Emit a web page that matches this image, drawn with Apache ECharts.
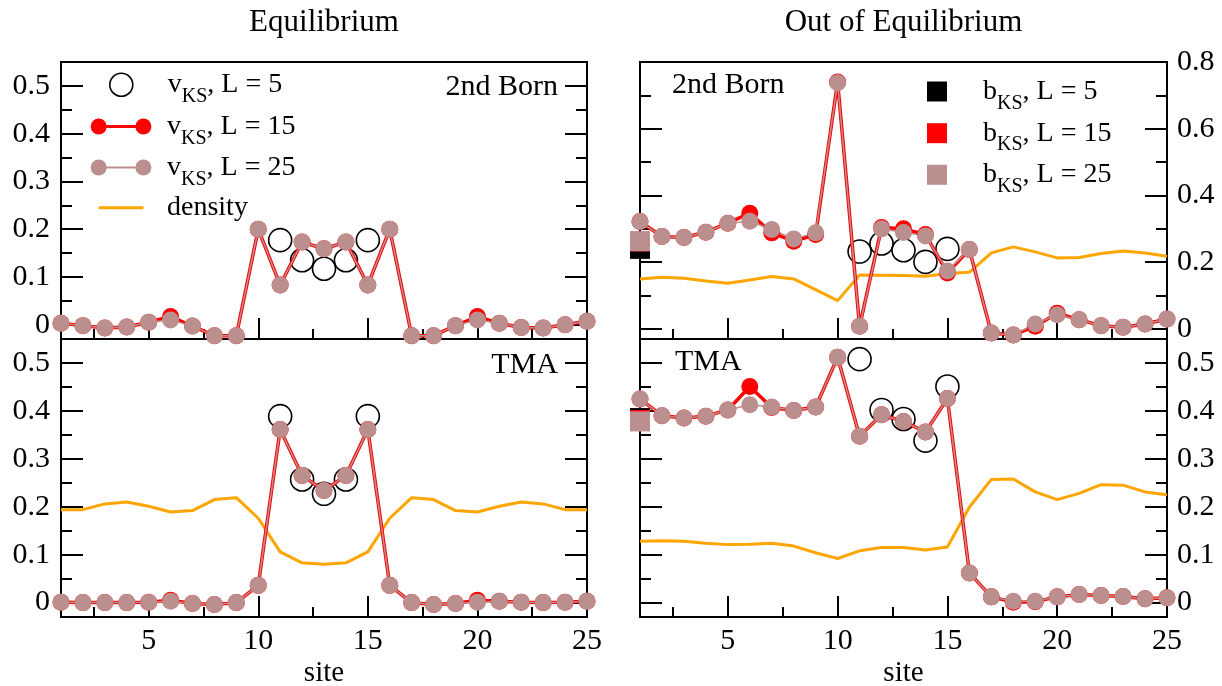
<!DOCTYPE html>
<html><head><meta charset="utf-8">
<script src="https://cdn.jsdelivr.net/npm/echarts@6/dist/echarts.min.js"></script>
<style>html,body{margin:0;padding:0;background:#fff}#c{width:1222px;height:686px}</style>
</head><body><div id="c"></div>
<script>
// ---------------- data ----------------
const sites = [1,2,3,4,5,6,7,8,9,10,11,12,13,14,15,16,17,18,19,20,21,22,23,24,25];
const l5Sites = [11,12,13,14,15];
const xMajorTicks = [5,10,15,20,25];
const xMinorTicks = [2.5,7.5,12.5,17.5,22.5];
const yTicksSmall = [0,0.1,0.2,0.3,0.4,0.5];
const yMinorSmall = [0.05,0.15,0.25,0.35,0.45];
const yTicksBig = [0,0.2,0.4,0.6,0.8];
const yMinorBig = [0.1,0.3,0.5,0.7];

// Equilibrium, 2nd Born
const eqBornL25 = [0.003,-0.002,-0.007,-0.005,0.005,0.010,-0.003,-0.023,-0.023,0.200,0.083,0.173,0.159,0.173,0.083,0.200,-0.023,-0.023,-0.002,0.010,0.003,-0.006,-0.007,0.000,0.007];
const eqBornL15 = [0.003,-0.002,-0.007,-0.005,0.005,0.017,-0.003,-0.023,-0.023,0.200,0.083,0.173,0.159,0.173,0.083,0.200,-0.023,-0.023,-0.002,0.017,0.003,-0.006,-0.007,0.000,0.007];
const eqBornL5 = [0.177,0.135,0.117,0.135,0.177];

// Equilibrium, TMA
const eqTmaL25 = [0.001,0.000,0.000,0.000,0.001,0.003,-0.002,-0.004,0.000,0.036,0.361,0.265,0.234,0.265,0.361,0.036,0.000,-0.004,-0.002,0.001,0.003,0.001,0.000,0.001,0.003];
const eqTmaL15 = [0.001,0.000,0.000,0.000,0.001,0.005,-0.002,-0.004,0.000,0.036,0.361,0.265,0.234,0.265,0.361,0.036,0.000,-0.004,-0.002,0.005,0.003,0.001,0.000,0.001,0.003];
const eqTmaL5 = [0.389,0.257,0.227,0.257,0.389];
const eqTmaDensity = [0.194,0.194,0.206,0.210,0.201,0.189,0.192,0.215,0.219,0.176,0.106,0.083,0.080,0.083,0.106,0.176,0.219,0.215,0.192,0.189,0.201,0.210,0.206,0.194,0.194];

// Out of equilibrium, 2nd Born
const neqBornL25 = [0.322,0.277,0.274,0.290,0.317,0.323,0.298,0.270,0.288,0.738,0.008,0.300,0.289,0.279,0.174,0.238,-0.012,-0.018,0.015,0.043,0.028,0.010,0.005,0.015,0.030];
const neqBornL15 = [0.322,0.277,0.274,0.290,0.317,0.347,0.288,0.263,0.283,0.740,0.008,0.304,0.300,0.283,0.168,0.238,-0.012,-0.018,0.008,0.047,0.028,0.010,0.005,0.015,0.030];
const neqBornL5 = [0.232,0.256,0.236,0.201,0.240];
const neqBornDensity = [0.150,0.155,0.152,0.144,0.137,0.147,0.157,0.150,0.118,0.085,0.162,0.161,0.160,0.158,0.166,0.170,0.228,0.246,0.231,0.213,0.214,0.226,0.234,0.228,0.218];
const neqBornBias = [0.240,0.262,0.263];

// Out of equilibrium, TMA
const neqTmaL25 = [0.425,0.390,0.385,0.389,0.402,0.413,0.408,0.401,0.408,0.512,0.347,0.392,0.378,0.356,0.426,0.062,0.012,0.003,0.003,0.012,0.017,0.015,0.013,0.008,0.010];
const neqTmaL15 = [0.425,0.390,0.385,0.389,0.402,0.451,0.407,0.401,0.408,0.512,0.347,0.392,0.378,0.356,0.426,0.062,0.012,0.001,0.002,0.012,0.017,0.015,0.013,0.008,0.010];
const neqTmaL5 = [0.508,0.402,0.383,0.338,0.451];
const neqTmaDensity = [0.128,0.129,0.128,0.124,0.121,0.122,0.124,0.118,0.104,0.092,0.108,0.115,0.115,0.110,0.116,0.199,0.257,0.258,0.231,0.215,0.228,0.246,0.245,0.231,0.225];
const neqTmaBias = [0.385,0.381,0.378];

// ---------------- styling ----------------
const FONT = 'Liberation Serif';
const RED = '#ff0000', BROWN = '#bc8f8f', ORANGE = '#ffa500', BLACK = '#000000';
const zip = (xs, ys) => xs.map((x, i) => [x, ys[i]]);
const fmt = v => String(Math.round(v * 10) / 10);
const TICKFONT = 30;

const panels = [
  {left:61, top:62, width:526, height:277, ymin:-0.03, ymax:0.55, major:yTicksSmall, minor:yMinorSmall, labelSide:'left', xLabels:false,
   l25:eqBornL25, l15:eqBornL15, l5:eqBornL5, density:null, bias:null},
  {left:61, top:339, width:526, height:278, ymin:-0.03, ymax:0.55, major:yTicksSmall, minor:yMinorSmall, labelSide:'left', xLabels:true,
   l25:eqTmaL25, l15:eqTmaL15, l5:eqTmaL5, density:eqTmaDensity, bias:null},
  {left:640, top:62, width:527, height:277, ymin:-0.03, ymax:0.8, major:yTicksBig, minor:yMinorBig, labelSide:'right', xLabels:false,
   l25:neqBornL25, l15:neqBornL15, l5:neqBornL5, density:neqBornDensity, bias:neqBornBias},
  {left:640, top:339, width:527, height:278, ymin:-0.03, ymax:0.55, major:yTicksSmall, minor:yMinorSmall, labelSide:'right', xLabels:true,
   l25:neqTmaL25, l15:neqTmaL15, l5:neqTmaL5, density:neqTmaDensity, bias:neqTmaBias}
];

const grids = [], xAxes = [], yAxes = [], series = [];
panels.forEach((p, g) => {
  grids.push({left:p.left, top:p.top, width:p.width, height:p.height, show:true,
    borderColor:BLACK, borderWidth:2, backgroundColor:'transparent', containLabel:false, outerBoundsMode:'none'});
  [true, false].forEach(major => {
    xAxes.push({gridIndex:g, type:'value', min:1, max:25, position:'bottom',
      axisLine:{show:false, onZero:false}, splitLine:{show:false},
      axisTick:{show:true, inside:true, length: major ? 21 : 10, lineStyle:{color:BLACK, width:2},
        customValues: major ? xMajorTicks : xMinorTicks},
      axisLabel:{show: major && p.xLabels, customValues:xMajorTicks, margin:9,
        fontFamily:FONT, fontSize:TICKFONT, color:BLACK},
      name: (major && p.xLabels) ? 'site' : '', nameLocation:'middle', nameGap:42,
      nameTextStyle:{fontFamily:FONT, fontSize:29, color:BLACK}});
  });
  ['left','right'].forEach(side => {
    [true, false].forEach(major => {
      yAxes.push({gridIndex:g, type:'value', min:p.ymin, max:p.ymax, position:side, offset:0,
        axisLine:{show:false, onZero:false}, splitLine:{show:false},
        axisTick:{show:true, inside:true, length: major ? 22 : 11, lineStyle:{color:BLACK, width:2},
          customValues: major ? p.major : p.minor},
        axisLabel:{show: major && side === p.labelSide, customValues:p.major,
          margin: side === 'left' ? 11 : 10, formatter: fmt,
          fontFamily:FONT, fontSize:TICKFONT, color:BLACK}});
    });
  });
  const xi = 2 * g, yi = 4 * g;
  if (p.density) {
    series.push({type:'line', name:'density', xAxisIndex:xi, yAxisIndex:yi, data:zip(sites, p.density),
      symbol:'none', showSymbol:false, lineStyle:{color:ORANGE, width:3}, itemStyle:{color:ORANGE, opacity:1}, clip:false, silent:true});
  }
  series.push({type:'scatter', name:'vL5', xAxisIndex:xi, yAxisIndex:yi, data:zip(l5Sites, p.l5),
    symbol:'circle', symbolSize:23, itemStyle:{color:'rgba(0,0,0,0)', borderColor:BLACK, borderWidth:1.6, opacity:1}, clip:false, silent:true});
  series.push({type:'line', name:'vL15', xAxisIndex:xi, yAxisIndex:yi, data:zip(sites, p.l15),
    symbol:'circle', symbolSize:17, showSymbol:true, lineStyle:{color:RED, width:3.5}, itemStyle:{color:RED, opacity:1}, clip:false, silent:true});
  series.push({type:'line', name:'vL25', xAxisIndex:xi, yAxisIndex:yi, data:zip(sites, p.l25),
    symbol:'circle', symbolSize:17, showSymbol:true, lineStyle:{color:BROWN, width:1.5}, itemStyle:{color:BROWN, opacity:1}, clip:false, silent:true});
  if (p.bias) {
    const names = ['bL5','bL15','bL25'], cols = [BLACK, RED, BROWN];
    p.bias.forEach((b, i) => {
      series.push({type:'scatter', name:names[i], xAxisIndex:xi, yAxisIndex:yi, data:[[sites[0], b]],
        symbol:'rect', symbolSize:20, itemStyle:{color:cols[i], opacity:1}, clip:false, silent:true});
    });
  }
});

// ---------------- legends ----------------
const RICH = {
  m:{fontFamily:FONT, fontSize:28, lineHeight:28, verticalAlign:'top', padding:[0,0,9,0], color:BLACK},
  s:{fontFamily:FONT, fontSize:20, lineHeight:20, verticalAlign:'top', padding:[16,0,0,0], color:BLACK}
};
function legend(name, left, top, w, h, path, itemStyle, text) {
  return {show:true, selectedMode:false, orient:'vertical', left:left, top:top, padding:0, itemGap:0,
    itemWidth:w, itemHeight:h, data:[{name:name, icon:'path://' + path, itemStyle:itemStyle}],
    formatter:text, textStyle:{color:BLACK, fontFamily:FONT, fontSize:28, rich:RICH}};
}
const ringPath = 'M0 0 M77 24 M24 12 A11.5 11.5 0 1 1 47 12 A11.5 11.5 0 1 1 24 12 Z';
const dumbbell = t => 'M0 0 M77 24 M5.7 12 A8 8 0 1 1 21.7 12 A8 8 0 1 1 5.7 12 Z ' +
  'M50.4 12 A8 8 0 1 1 66.4 12 A8 8 0 1 1 50.4 12 Z ' +
  'M13.7 ' + (12 - t/2) + ' L58.4 ' + (12 - t/2) + ' L58.4 ' + (12 + t/2) + ' L13.7 ' + (12 + t/2) + ' Z';
const dashPath = 'M0 0 M77 24 M13.7 10.5 L58.4 10.5 L58.4 13.5 L13.7 13.5 Z';
const squarePath = 'M0 0 M51 20 M0 0 L20 0 L20 20 L0 20 Z';

const legends = [
  legend('vL5', 85, 89.3 - 18.5, 77, 24, ringPath, {color:'rgba(0,0,0,0)', borderColor:BLACK, borderWidth:1.6, opacity:1}, '{m|v}{s|KS}{m|, L = 5}'),
  legend('vL15', 85, 131 - 18.5, 77, 24, dumbbell(3), {color:RED, borderWidth:0, opacity:1}, '{m|v}{s|KS}{m|, L = 15}'),
  legend('vL25', 85, 172 - 18.5, 77, 24, dumbbell(2), {color:BROWN, borderWidth:0, opacity:1}, '{m|v}{s|KS}{m|, L = 25}'),
  legend('density', 85, 212.3 - 18.5, 77, 24, dashPath, {color:ORANGE, borderWidth:0, opacity:1}, '{m|density}'),
  legend('bL5', 927, 96 - 18.5, 51, 20, squarePath, {color:BLACK, borderWidth:0, opacity:1}, '{m|b}{s|KS}{m|, L = 5}'),
  legend('bL15', 927, 137.7 - 18.5, 51, 20, squarePath, {color:RED, borderWidth:0, opacity:1}, '{m|b}{s|KS}{m|, L = 15}'),
  legend('bL25', 927, 179.3 - 18.5, 51, 20, squarePath, {color:BROWN, borderWidth:0, opacity:1}, '{m|b}{s|KS}{m|, L = 25}')
];

// ---------------- texts ----------------
const txt = (s, x, y, size, align) => ({type:'text', x:x, y:y, silent:true,
  style:{text:s, fill:BLACK, font:size + 'px "' + FONT + '"', align:align, verticalAlign:'middle'}});
const graphic = [
  txt('Equilibrium', 324, 22.8, 31, 'center'),
  txt('Out of Equilibrium', 903.5, 22.8, 31, 'center'),
  txt('2nd Born', 558, 87.6, 30, 'right'),
  txt('2nd Born', 672, 84.9, 30, 'left'),
  txt('TMA', 558, 364.9, 30, 'right'),
  txt('TMA', 675, 362.6, 30, 'left')
];

const chart = echarts.init(document.getElementById('c'), null, {renderer:'canvas'});
chart.setOption({
  animation:false,
  backgroundColor:'#ffffff',
  textStyle:{fontFamily:FONT},
  grid:grids, xAxis:xAxes, yAxis:yAxes, series:series,
  legend:legends, graphic:graphic, tooltip:{show:false}
});
</script></body></html>
